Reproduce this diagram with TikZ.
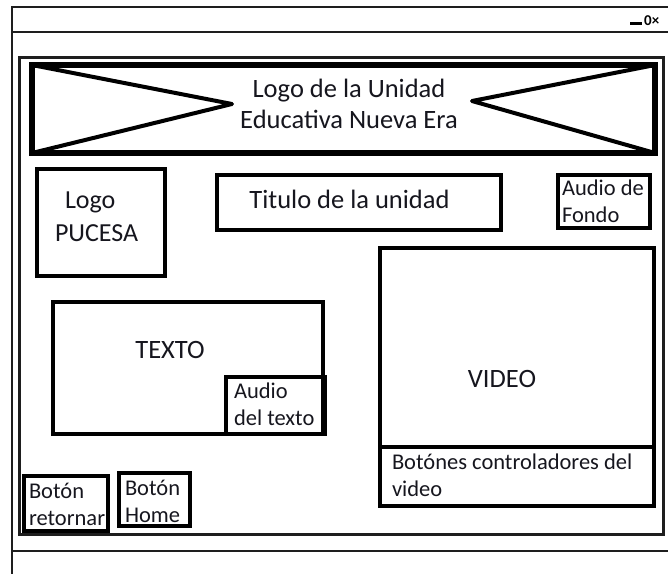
\documentclass[tikz,border=0pt]{standalone}
\usepackage{fontspec}
\setmainfont{Carlito}
\definecolor{txt}{RGB}{22,22,30}
\definecolor{winc}{RGB}{30,30,30}
\begin{document}
\begin{tikzpicture}[x=1pt,y=-1pt,
  box/.style={draw=black, line width=4pt, inner sep=0pt, outer sep=0pt, anchor=north west, rectangle},
  lbl/.style={inner sep=0pt, outer sep=0pt, text=txt, font=\fontsize{22.5}{27}\selectfont, align=left, anchor=base west},
  big/.style={inner sep=0pt, outer sep=0pt, text=txt, font=\fontsize{26.5}{31}\selectfont, anchor=base}]
\useasboundingbox (0,0) rectangle (668,573);
\fill[white] (0,0) rectangle (668,573);
% window chrome
\draw[line width=2pt, draw=winc] (12,700) -- (12,7) -- (700,7);
\draw[line width=2.5pt, draw=winc] (12,32) -- (700,32);
\draw[line width=2.5pt, draw=winc] (12,551) -- (700,551);
\draw[line width=3pt] (630,23.5) -- (642,23.5);
\node[inner sep=0pt, anchor=base west, font=\fontsize{15}{15}\selectfont\bfseries] (ctl) at (644,25) {0×};
% content frame
\node[box, line width=3pt, draw=winc, minimum width=644pt, minimum height=477pt] (frame) at (19.5,57.5) {};
% banner
\node[box, line width=6pt, minimum width=623pt, minimum height=88pt] (banner) at (32,65) {};
\coordinate (apL) at (232,104);
\coordinate (apR) at (472,101);
\draw[line width=4pt, line join=round] (banner.north west) -- (apL) -- (banner.south west);
\draw[line width=4pt, line join=round] (banner.north east) -- (apR) -- (banner.south east);
\node[big, align=center] (bantxt) at (349,128) {Logo de la Unidad\\Educativa Nueva Era};
% boxes
\node[box, minimum width=128pt, minimum height=107pt] (logo) at (37,169) {};
\node[lbl, font=\fontsize{26}{33}\selectfont] (logotxt) at (55,241) {\hspace*{10pt}Logo\\PUCESA};
\node[box, minimum width=284pt, minimum height=55pt] (titulo) at (217,175) {};
\node[big] (titulotxt) at (349.5,208) {Titulo de la unidad};
\node[box, minimum width=92pt, minimum height=53pt] (afondo) at (558,175) {};
\node[lbl] (afondotxt) at (562,222) {Audio de\\Fondo};
\node[box, minimum width=270pt, minimum height=132pt] (texto) at (53,302) {};
\node[big] (textotxt) at (170,358) {TEXTO};
\node[box, minimum width=99pt, minimum height=57pt] (atexto) at (226,377) {};
\node[lbl] (atextotxt) at (234,425) {Audio\\del texto};
\node[box, minimum width=274pt, minimum height=199pt] (video) at (380,248) {};
\node[big] (videotxt) at (502,387) {VIDEO};
\node[box, minimum width=274pt, minimum height=59pt] (botones) at (380,447) {};
\node[lbl] (botonestxt) at (392,496) {Botónes controladores del\\video};
\node[box, minimum width=84pt, minimum height=55pt] (retornar) at (24,476) {};
\node[lbl] (retornartxt) at (29,525) {Botón\\retornar};
\node[box, minimum width=71pt, minimum height=53pt] (home) at (119,473) {};
\node[lbl] (hometxt) at (125,522) {Botón\\Home};
\end{tikzpicture}
\end{document}
